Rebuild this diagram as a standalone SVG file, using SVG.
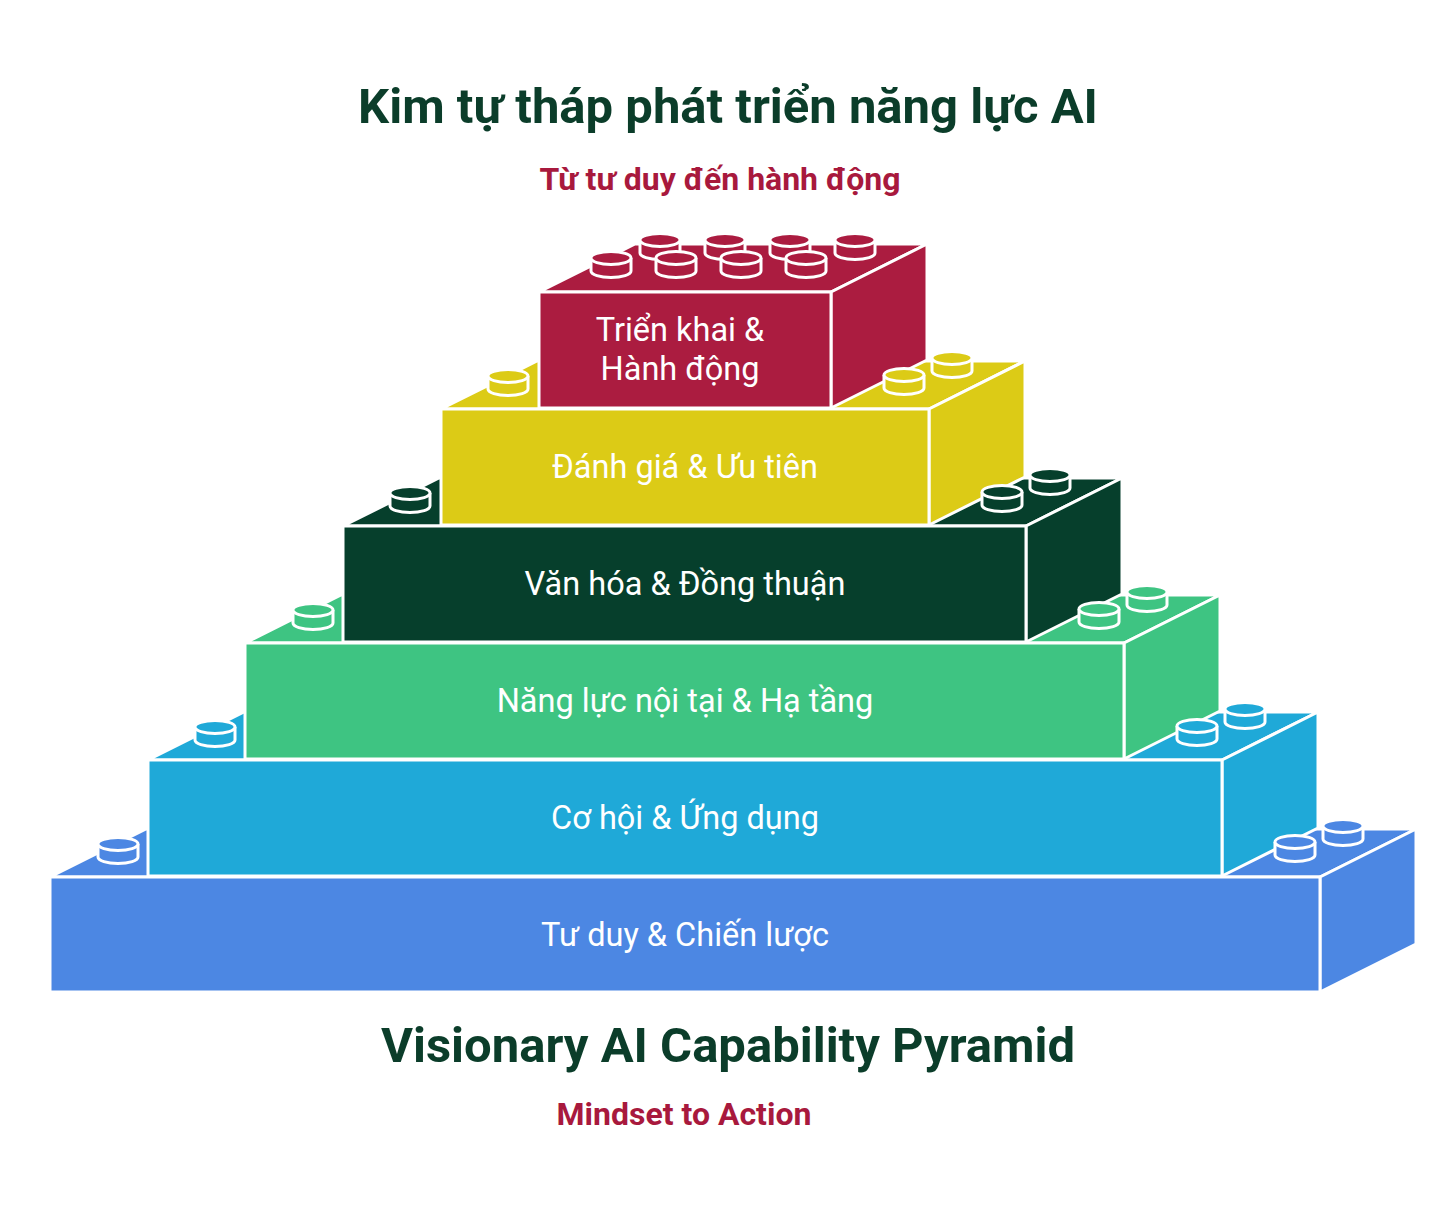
<svg xmlns="http://www.w3.org/2000/svg" xmlns:xlink="http://www.w3.org/1999/xlink" width="1456" height="1212" viewBox="0 0 1456 1212">
<style>
.face{stroke:#fff;stroke-width:3;stroke-linejoin:round}
.stud{stroke:#fff;stroke-width:3}
.lbl{font-family:Roboto,"Liberation Sans",sans-serif;font-size:32.5px;fill:#fff;text-anchor:middle}
.t1{font-family:Roboto,"Liberation Sans",sans-serif;font-weight:bold;fill:#0B3D2A;text-anchor:middle}
.t2{font-family:Roboto,"Liberation Sans",sans-serif;font-weight:bold;fill:#A8193D;text-anchor:middle}
</style>
<defs>
<g id="stud">
<path class="stud" d="M-20,0 V13 A20,6.5 0 0 0 20,13 V0"/>
<ellipse class="stud" cx="0" cy="0" rx="20" ry="6.5"/>
</g>
</defs>
<rect width="1456" height="1212" fill="#fff"/>
<text class="t1" x="728" y="123" font-size="49">Kim tự tháp phát triển năng lực AI</text>
<text class="t2" x="720" y="190" font-size="32">Từ tư duy đến hành động</text>

<g id="block-1" fill="#4C87E3">
<path class="face" d="M50,877 L146,829 L1416,829 L1320,877 Z"/>
<path class="face" d="M1320,877 L1416,829 L1416,944 L1320,992 Z"/>
<rect class="face" x="50" y="877" width="1270" height="115"/>
<text class="lbl" x="685" y="946">Tư duy &amp; Chiến lược</text>
</g>
<g id="block-2" fill="#1FA9D8">
<path class="face" d="M148,760 L244,712 L1318,712 L1222,760 Z"/>
<path class="face" d="M1222,760 L1318,712 L1318,828 L1222,876 Z"/>
<rect class="face" x="148" y="760" width="1074" height="116"/>
<text class="lbl" x="685" y="829">Cơ hội &amp; Ứng dụng</text>
</g>
<g id="block-3" fill="#3EC482">
<path class="face" d="M245,643 L341,595 L1220,595 L1124,643 Z"/>
<path class="face" d="M1124,643 L1220,595 L1220,711 L1124,759 Z"/>
<rect class="face" x="245" y="643" width="879" height="116"/>
<text class="lbl" x="685" y="712">Năng lực nội tại &amp; Hạ tầng</text>
</g>
<g id="block-4" fill="#063F2C">
<path class="face" d="M343,526 L439,478 L1122,478 L1026,526 Z"/>
<path class="face" d="M1026,526 L1122,478 L1122,594 L1026,642 Z"/>
<rect class="face" x="343" y="526" width="683" height="116"/>
<text class="lbl" x="685" y="595">Văn hóa &amp; Đồng thuận</text>
</g>
<g id="block-5" fill="#DCCB16">
<path class="face" d="M441,409 L537,361 L1025,361 L929,409 Z"/>
<path class="face" d="M929,409 L1025,361 L1025,477 L929,525 Z"/>
<rect class="face" x="441" y="409" width="488" height="116"/>
<text class="lbl" x="685" y="478">Đánh giá &amp; Ưu tiên</text>
</g>
<g id="block-6" fill="#AB1C40">
<path class="face" d="M539,292 L635,244 L927,244 L831,292 Z"/>
<path class="face" d="M831,292 L927,244 L927,360 L831,408 Z"/>
<rect class="face" x="539" y="292" width="292" height="116"/>
<text class="lbl" x="680" y="341">Triển khai &amp;</text>
<text class="lbl" x="680" y="380">Hành động</text>
</g>

<g id="studs">
<g fill="#4C87E3">
<use xlink:href="#stud" x="118" y="844"/>
<use xlink:href="#stud" x="1343" y="826"/>
<use xlink:href="#stud" x="1295" y="842"/>
</g>
<g fill="#1FA9D8">
<use xlink:href="#stud" x="215" y="727"/>
<use xlink:href="#stud" x="1245" y="709"/>
<use xlink:href="#stud" x="1197" y="726"/>
</g>
<g fill="#3EC482">
<use xlink:href="#stud" x="313" y="610"/>
<use xlink:href="#stud" x="1147" y="592"/>
<use xlink:href="#stud" x="1099" y="609"/>
</g>
<g fill="#063F2C">
<use xlink:href="#stud" x="410" y="493"/>
<use xlink:href="#stud" x="1050" y="475"/>
<use xlink:href="#stud" x="1002" y="492"/>
</g>
<g fill="#DCCB16">
<use xlink:href="#stud" x="508" y="376"/>
<use xlink:href="#stud" x="952" y="358"/>
<use xlink:href="#stud" x="904" y="375"/>
</g>
<g fill="#AB1C40">
<use xlink:href="#stud" x="660" y="240"/>
<use xlink:href="#stud" x="725" y="240"/>
<use xlink:href="#stud" x="790" y="240"/>
<use xlink:href="#stud" x="855" y="240"/>
<use xlink:href="#stud" x="611" y="258"/>
<use xlink:href="#stud" x="676" y="258"/>
<use xlink:href="#stud" x="741" y="258"/>
<use xlink:href="#stud" x="806" y="258"/>
</g>
</g>

<text class="t1" x="728" y="1062" font-size="49">Visionary AI Capability Pyramid</text>
<text class="t2" x="684" y="1125" font-size="32">Mindset to Action</text>
</svg>
